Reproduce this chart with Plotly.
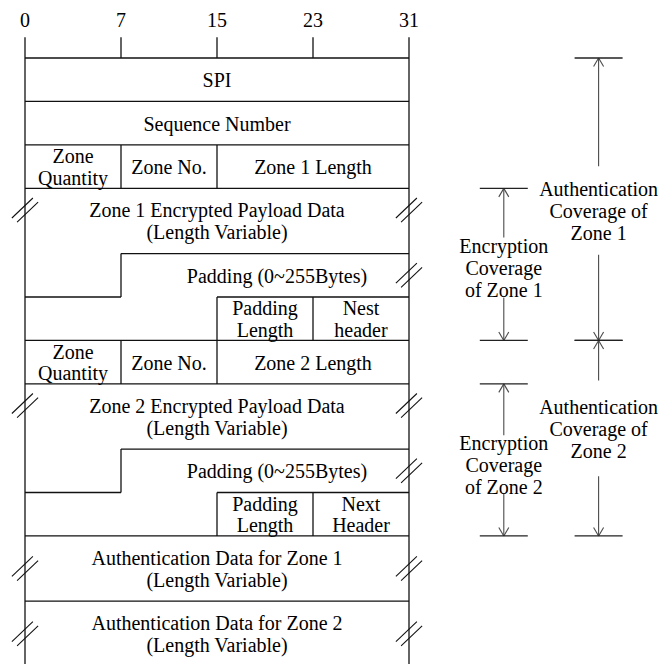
import plotly.graph_objects as go

# ---------------- data ----------------
bit_ticks = [0, 8, 16, 24, 32]
tick_labels = ["0", "7", "15", "23", "31"]

block_kinds = ["word", "word", "zone_hdr", "payload", "padding", "trailer",
               "zone_hdr", "payload", "padding", "trailer", "auth", "auth"]
block_heights = [1, 1, 1, 1.5, 1, 1, 1, 1.5, 1, 1, 1.5, 1.5]
block_labels = [
    [(0, 32, "SPI")],
    [(0, 32, "Sequence Number")],
    [(0, 8, "Zone\nQuantity"), (8, 16, "Zone No."), (16, 32, "Zone 1 Length")],
    [(0, 32, "Zone 1 Encrypted Payload Data\n(Length Variable)")],
    [(10, 32, "Padding (0~255Bytes)")],
    [(16, 24, "Padding\nLength"), (24, 32, "Nest\nheader")],
    [(0, 8, "Zone\nQuantity"), (8, 16, "Zone No."), (16, 32, "Zone 2 Length")],
    [(0, 32, "Zone 2 Encrypted Payload Data\n(Length Variable)")],
    [(10, 32, "Padding (0~255Bytes)")],
    [(16, 24, "Padding\nLength"), (24, 32, "Next\nHeader")],
    [(0, 32, "Authentication Data for Zone 1\n(Length Variable)")],
    [(0, 32, "Authentication Data for Zone 2\n(Length Variable)")],
]
# variable-length marks: (block index, sides)
break_blocks = [(3, "LR"), (4, "R"), (7, "LR"), (8, "R"), (10, "LR"), (11, "LR")]

# coverage arrows: (label, first block, last block)
coverage_labels = ["Authentication\nCoverage of\nZone 1",
                   "Encryption\nCoverage\nof Zone 1",
                   "Authentication\nCoverage of\nZone 2",
                   "Encryption\nCoverage\nof Zone 2"]
coverage_first = [0, 3, 6, 7]
coverage_last = [5, 5, 9, 9]

# ---------------- styling / geometry ----------------
FONT = "Liberation Serif, Times New Roman, serif"
FS = 20
LINE_C = "#111111"
ARROW_C = "#4a4a4a"
LW = 1.3
LINE_STEP = 0.5          # line spacing of multi-line text (rows)
TXT_DY = 0.055           # small baseline correction (rows)
cov_x = [47.8, 39.9, 47.8, 39.9]           # bit columns of the arrows
cov_label_frac = [0.54, 0.52, 0.45, 0.53]  # label position in span
cov_gap = [1.02, 0.69, 1.1, 0.67]          # half gap around label (rows)
break_frac = {"payload": 1 / 3, "padding": 0.5, "auth": 0.5}

# full-window figure (body margin removed in post_script)
FIG_W, FIG_H = 661, 664
PX_PER_BIT, PX_PER_ROW = 12.0, 43.45
X0_PX, Y0_PX = 25.0, 58.0   # px of bit 0 / row 0
X_RANGE = [-X0_PX / PX_PER_BIT, (FIG_W - X0_PX) / PX_PER_BIT]
Y_TOP = -Y0_PX / PX_PER_ROW
Y_BOT = (FIG_H - Y0_PX) / PX_PER_ROW

# row edges
edges = [0.0]
for h in block_heights:
    edges.append(edges[-1] + h)

hx, hy = [], []  # main line segments


def seg(x0, y0, x1, y1, xs=hx, ys=hy):
    xs += [x0, x1, None]
    ys += [y0, y1, None]


W = bit_ticks[-1]
for i, kind in enumerate(block_kinds):
    top, bot = edges[i], edges[i + 1]
    if kind in ("word", "payload", "auth"):
        seg(0, top, W, top)
    elif kind == "zone_hdr":
        seg(0, top, W, top)
        seg(bit_ticks[1], top, bit_ticks[1], bot)
        seg(bit_ticks[2], top, bit_ticks[2], bot)
    elif kind == "padding":
        seg(bit_ticks[1], top, W, top)
        seg(bit_ticks[1], top, bit_ticks[1], bot)
    elif kind == "trailer":
        seg(0, top, bit_ticks[1], top)
        seg(bit_ticks[2], top, W, top)
        seg(bit_ticks[2], top, bit_ticks[2], bot)
        seg(bit_ticks[3], top, bit_ticks[3], bot)

tick_top = -0.48
# outer borders and ticks
seg(0, tick_top, 0, Y_BOT + 1)
seg(W, tick_top, W, Y_BOT + 1)
for b in bit_ticks[1:-1]:
    seg(b, tick_top, b, 0)

# break marks
bx, by = [], []
for bi, sides in break_blocks:
    kind = block_kinds[bi]
    cy = edges[bi] + block_heights[bi] * break_frac[kind]
    for s in sides:
        cx = 0 if s == "L" else W
        for off in (-1, 1):
            ox, oy = 0.217 * off, 0.048 * off
            seg(cx + ox - 0.875, cy + oy + 0.23, cx + ox + 0.875, cy + oy - 0.23, bx, by)

# coverage arrows
ax, ay = [], []
barx, bary = [], []
txt_x, txt_y, txt_t = [], [], []
AH_W, AH_L, BAR_W = 0.417, 0.196, 2.0
for k in range(len(coverage_labels)):
    x = cov_x[k]
    y0 = edges[coverage_first[k]]
    y1 = edges[coverage_last[k] + 1]
    yc = y0 + (y1 - y0) * cov_label_frac[k]
    g = cov_gap[k]
    seg(x, y0, x, yc - g, ax, ay)
    seg(x, yc + g, x, y1, ax, ay)
    # open arrow heads
    seg(x - AH_W, y0 + AH_L, x, y0, ax, ay)
    seg(x, y0, x + AH_W, y0 + AH_L, ax, ay)
    seg(x - AH_W, y1 - AH_L, x, y1, ax, ay)
    seg(x, y1, x + AH_W, y1 - AH_L, ax, ay)
    seg(x - BAR_W, y0, x + BAR_W, y0, barx, bary)
    seg(x - BAR_W, y1, x + BAR_W, y1, barx, bary)
    lines = coverage_labels[k].split("\n")
    n = len(lines)
    for j, t in enumerate(lines):
        txt_x.append(x)
        txt_y.append(yc + (j - (n - 1) / 2) * LINE_STEP + TXT_DY)
        txt_t.append(t)

# field labels
for i, labs in enumerate(block_labels):
    top, bot = edges[i], edges[i + 1]
    for (b0, b1, text) in labs:
        lines = text.split("\n")
        n = len(lines)
        yc = (top + bot) / 2
        for j, t in enumerate(lines):
            txt_x.append((b0 + b1) / 2)
            txt_y.append(yc + (j - (n - 1) / 2) * LINE_STEP + TXT_DY)
            txt_t.append(t)

# tick labels
for b, lab in zip(bit_ticks, tick_labels):
    txt_x.append(b)
    txt_y.append(-0.875 + TXT_DY)
    txt_t.append(lab)

fig = go.Figure()
fig.add_trace(go.Scatter(x=hx, y=hy, mode="lines",
                         line=dict(color=LINE_C, width=LW), hoverinfo="skip"))
fig.add_trace(go.Scatter(x=bx, y=by, mode="lines",
                         line=dict(color=LINE_C, width=1.1), hoverinfo="skip"))
fig.add_trace(go.Scatter(x=ax, y=ay, mode="lines",
                         line=dict(color=ARROW_C, width=1.1), hoverinfo="skip"))
fig.add_trace(go.Scatter(x=barx, y=bary, mode="lines",
                         line=dict(color="#222222", width=1.3), hoverinfo="skip"))
fig.add_trace(go.Scatter(x=txt_x, y=txt_y, mode="text", text=txt_t,
                         textposition="middle center", cliponaxis=False,
                         textfont=dict(family=FONT, size=FS, color="#000000"),
                         hoverinfo="skip"))

fig.update_layout(
    width=FIG_W, height=FIG_H,
    margin=dict(l=0, r=0, t=0, b=0),
    paper_bgcolor="white", plot_bgcolor="white",
    showlegend=False, hovermode=False,
    xaxis=dict(range=X_RANGE, visible=False, fixedrange=True),
    yaxis=dict(range=[Y_BOT, Y_TOP], visible=False, fixedrange=True),
)
fig.write_html("out.html", config={"displayModeBar": False},
               post_script="document.body.style.margin='0px';"
                           "document.body.style.overflow='hidden';")
